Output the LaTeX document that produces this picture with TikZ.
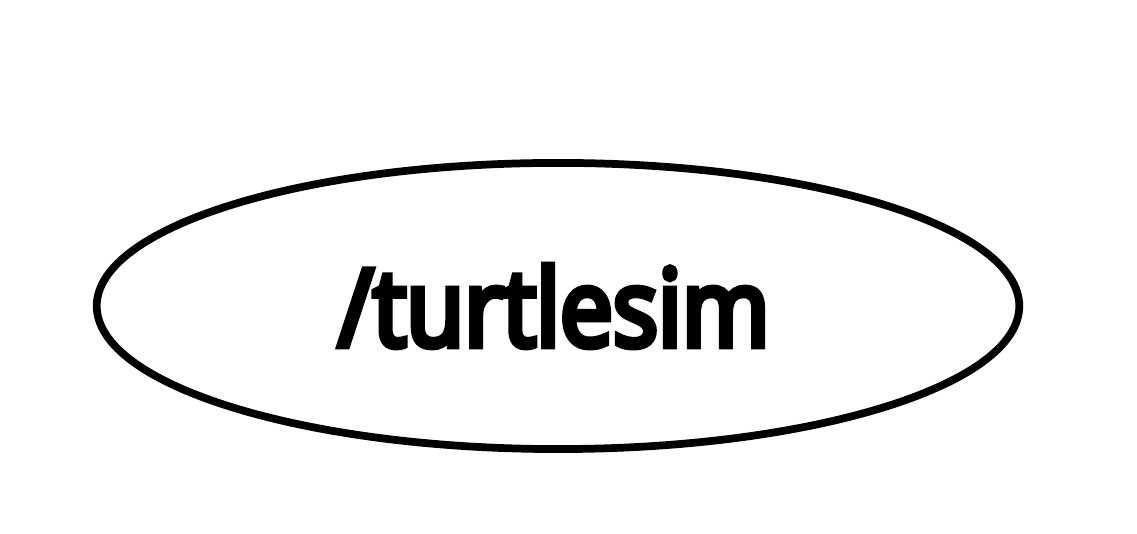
\documentclass[tikz,border=0pt]{standalone}
\usepackage{fontspec}
\setmainfont{Open Sans}
\newfontfamily\labelfont{Open Sans}[FakeStretch=0.88]
\newcommand\heavytext[1]{\special{pdf:literal direct 2 Tr 1.8 w}#1\special{pdf:literal direct 0 Tr}}
\usetikzlibrary{shapes.geometric}

\begin{document}
\begin{tikzpicture}[x=0.01cm,y=0.01cm]
    \tikzset{rosnode/.style={ellipse,draw=black,line width=2.2pt,minimum width=9.22cm,minimum height=2.86cm,inner sep=0pt}}
    % page
    \useasboundingbox (0,0) rectangle (1137,534);
    % node
    \node[rosnode] (turtlesim) at (558,228) {};
    \node[font=\labelfont\fontsize{30.5}{36}\selectfont] (label) at (554,228) {\heavytext{/turtlesim}};
\end{tikzpicture}
\end{document}
